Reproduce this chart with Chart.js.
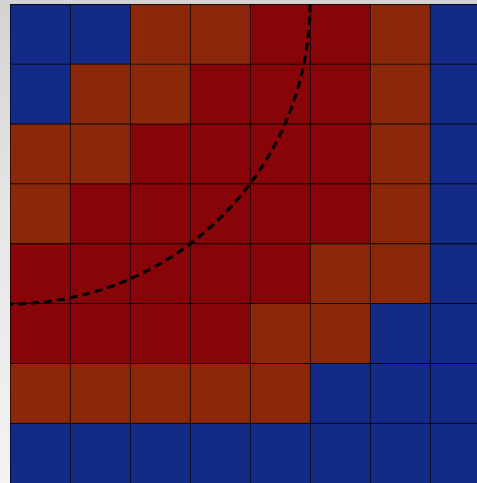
<!DOCTYPE html>
<html>
<head>
<meta charset="utf-8">
<title>Grid classes with radius 5 boundary</title>
<script src="https://cdn.jsdelivr.net/npm/chart.js@4.4.0/dist/chart.umd.min.js"></script>
<style>
  html, body { margin: 0; padding: 0; overflow: hidden; }
  body { width: 477px; height: 483px; background: linear-gradient(to bottom, #d3d3d3 0%, #e6e6e6 45%, #f3f3f3 100%); }
  #wrap { position: absolute; left: 0; top: 0; width: 500px; height: 500px; }
</style>
</head>
<body>
<div id="wrap"><canvas id="grid"></canvas></div>
<script>
// 8 x 8 grid, rows listed top to bottom
// 0 = outside, 1 = border zone, 2 = inside
var columns = ["0", "1", "2", "3", "4", "5", "6", "7"];
var gridRows = [
  [0, 0, 1, 1, 2, 2, 1, 0],
  [0, 1, 1, 2, 2, 2, 1, 0],
  [1, 1, 2, 2, 2, 2, 1, 0],
  [1, 2, 2, 2, 2, 2, 1, 0],
  [2, 2, 2, 2, 2, 1, 1, 0],
  [2, 2, 2, 2, 1, 1, 0, 0],
  [1, 1, 1, 1, 1, 0, 0, 0],
  [0, 0, 0, 0, 0, 0, 0, 0]
];
var classColors = ["#132a86", "#8a2809", "#870508"];

// dashed boundary: circle around the top-left corner
var circleCenter = { x: 0, y: 8 };
var circleRadius = 5;

// stacked bars build the grid from the bottom row up
var datasets = [];
for (var r = gridRows.length - 1; r >= 0; r--) {
  datasets.push({
    label: "row " + r,
    data: gridRows[r].map(function () { return 1; }),
    backgroundColor: gridRows[r].map(function (c) { return classColors[c]; }),
    borderColor: "rgba(0, 0, 0, 0.85)",
    borderWidth: { top: 1, left: 1, right: 0, bottom: 0 },
    borderSkipped: false,
    barPercentage: 1,
    categoryPercentage: 1
  });
}

// dark fill behind the cells so no seam shows between rows
var areaBg = {
  id: "areaBg",
  beforeDatasetsDraw: function (chart) {
    var a = chart.chartArea;
    chart.ctx.save();
    chart.ctx.fillStyle = "#111";
    chart.ctx.fillRect(a.left, a.top, a.right - a.left, a.bottom - a.top);
    chart.ctx.restore();
  }
};

var arcPlugin = {
  id: "arcPlugin",
  afterDatasetsDraw: function (chart) {
    var ctx = chart.ctx;
    var xs = chart.scales.xc;
    var ys = chart.scales.y;
    var cx = xs.getPixelForValue(circleCenter.x);
    var cy = ys.getPixelForValue(circleCenter.y);
    var rad = xs.getPixelForValue(circleRadius) - xs.getPixelForValue(0);
    var area = chart.chartArea;
    ctx.save();
    ctx.beginPath();
    ctx.rect(area.left, area.top, area.right - area.left, area.bottom - area.top);
    ctx.clip();
    ctx.beginPath();
    ctx.setLineDash([8, 5]);
    ctx.lineWidth = 3;
    ctx.strokeStyle = "#000";
    ctx.arc(cx, cy, rad, 0, Math.PI / 2);
    ctx.stroke();
    ctx.restore();
  }
};

new Chart(document.getElementById("grid"), {
  type: "bar",
  data: { labels: columns, datasets: datasets },
  options: {
    responsive: true,
    maintainAspectRatio: false,
    animation: false,
    layout: { padding: { left: 10, top: 4, right: 10, bottom: 17 } },
    scales: {
      x: { stacked: true, display: false, grid: { display: false } },
      xc: { type: "linear", min: 0, max: 8, offset: false, display: false },
      y: { stacked: true, min: 0, max: 8, offset: false, display: false }
    },
    plugins: {
      legend: { display: false },
      tooltip: { enabled: false }
    }
  },
  plugins: [areaBg, arcPlugin]
});
</script>
</body>
</html>
